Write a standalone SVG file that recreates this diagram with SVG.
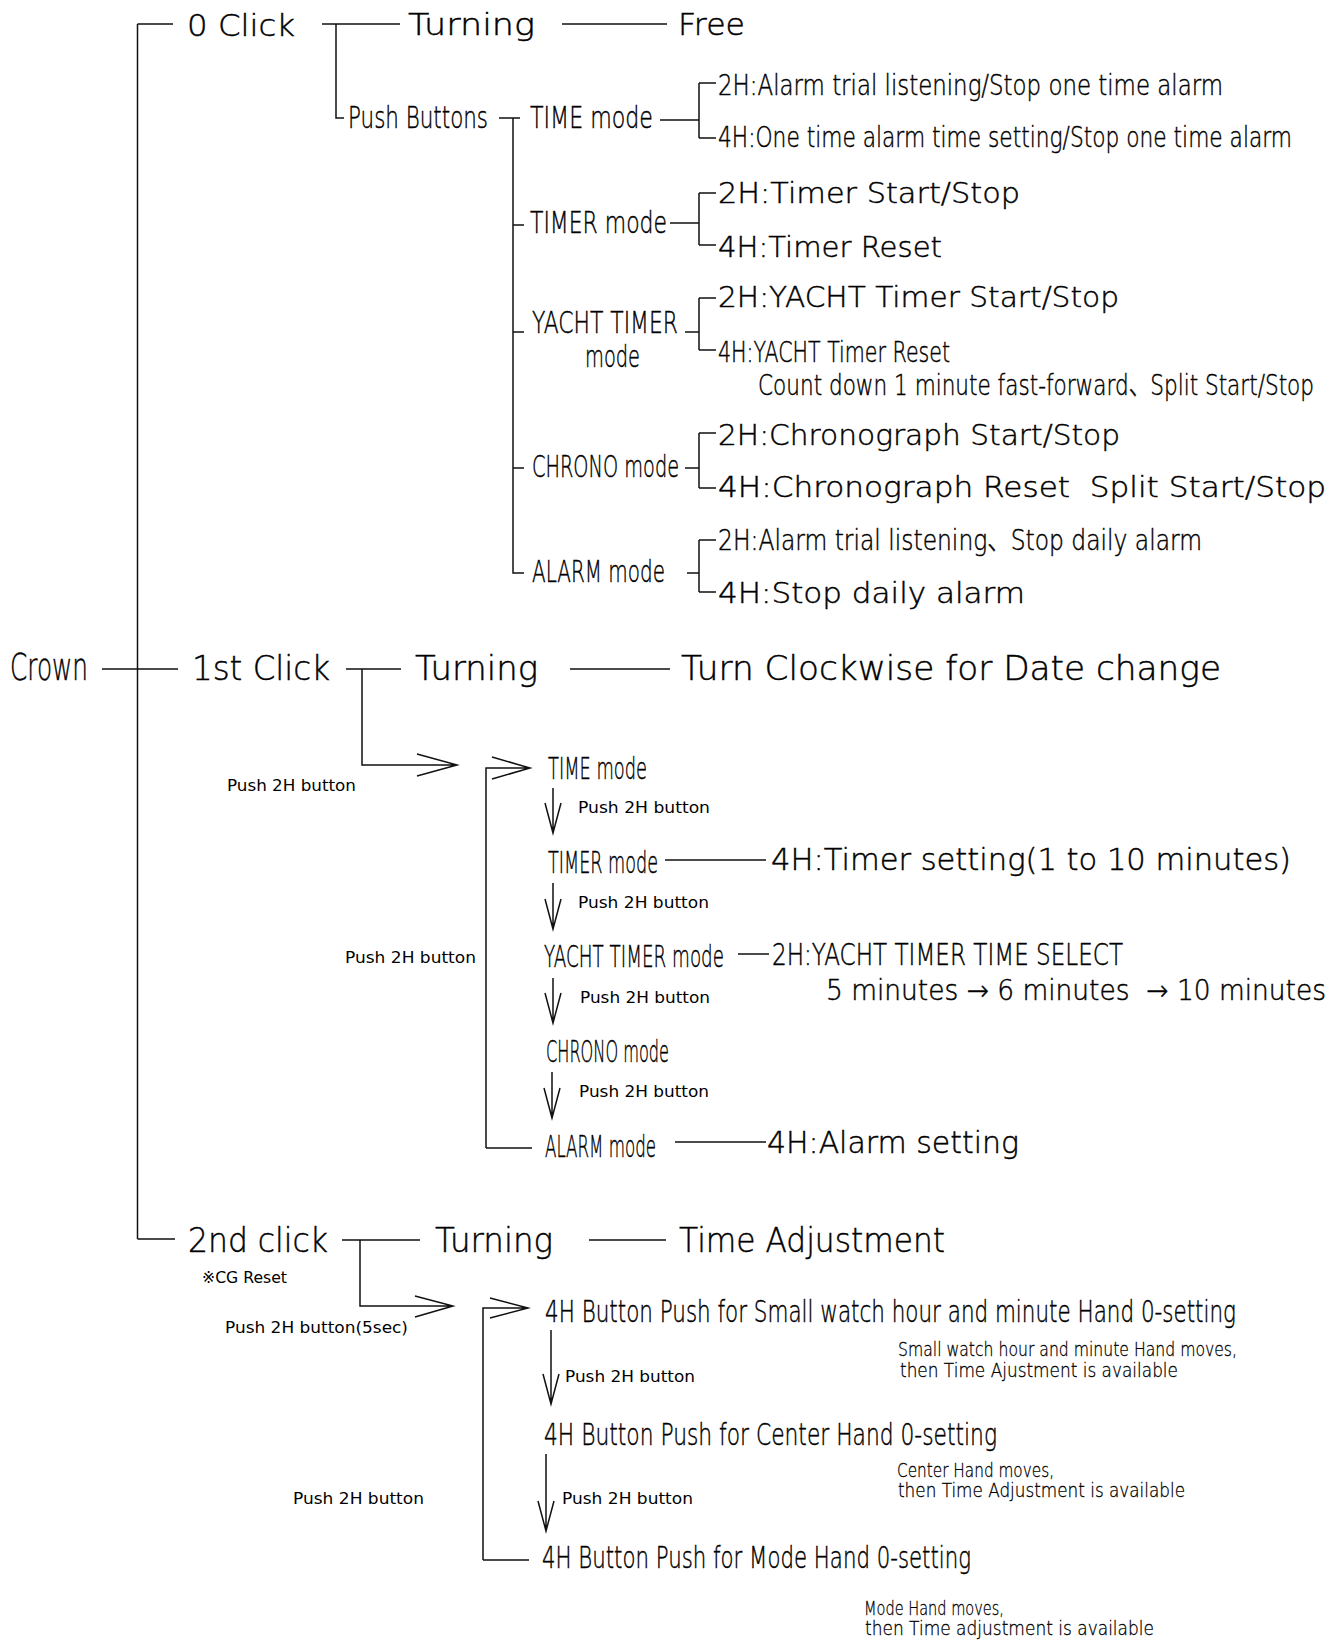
<svg xmlns="http://www.w3.org/2000/svg" width="1344" height="1641" viewBox="0 0 1344 1641">
<style>
text{font-family:"DejaVu Sans","Noto Sans CJK JP",sans-serif;font-weight:200;fill:#000;stroke:#000;stroke-width:0.45}
.s16{font-size:16px;font-weight:400;stroke:none}.s19{font-size:19px;stroke-width:0.3}.s28{font-size:28px}.s30{font-size:30px}.s31{font-size:31px}.s33{font-size:33px}.s37{font-size:37px}
.c path{fill:none;stroke:#111;stroke-width:1.5}
</style>
<rect width="1344" height="1641" fill="#fff"/>
<g class="c" id="connectors">
<path d="M137.5,24V1239M137.5,24H173M137.5,1239H175M102,669H178"/>
<path d="M322,24H400M336,24V118H344M562,24H667"/>
<path d="M499,118H520M513,118V573H524M513,225H524M513,332H524M513,468H524"/>
<path d="M660,120H699M699,83V138M699,83H716M699,138H716"/>
<path d="M670,223H699M699,193V245M699,193H716M699,245H716"/>
<path d="M685,332H699M699,298V350M699,298H716M699,350H716"/>
<path d="M685,468H699M699,433V488M699,433H716M699,488H716"/>
<path d="M687,573H699M699,540V592M699,540H716M699,592H716"/>
<path d="M346,669H401M362,669V765H457M417,754L457,765L417,776M570,669H670"/>
<path d="M486,1148V768H530M492,757L530,768L492,779M486,1148H532"/>
<path d="M553,788V833M545,803L553,833L561,803"/>
<path d="M553,883V929M545,899L553,929L561,899"/>
<path d="M553,978V1023M545,993L553,1023L561,993"/>
<path d="M552,1072V1118M544,1088L552,1118L560,1088"/>
<path d="M665,860H766M738,954H769M675,1142H766"/>
<path d="M342,1240H420M589,1240H666M360,1240V1306H453M415,1296L453,1306L415,1317"/>
<path d="M483,1560V1308H528M490,1298L528,1308L490,1318M483,1560H529"/>
<path d="M551,1330V1404M543,1374L551,1404L559,1374"/>
<path d="M546,1454V1531M538,1501L546,1531L554,1501"/>
</g>
<g id="crown"><text class="s37" transform="translate(10,680) scale(0.6,1)" textLength="130" lengthAdjust="spacingAndGlyphs">Crown</text></g>
<g id="click0"><text class="s31" transform="translate(187,36) scale(0.85,1)" textLength="127.06" lengthAdjust="spacingAndGlyphs">0 Click</text></g>
<g id="turning0"><text class="s31" transform="translate(408,35) scale(0.85,1)" textLength="149.41" lengthAdjust="spacingAndGlyphs">Turning</text></g>
<g id="free"><text class="s31" transform="translate(678,35) scale(0.85,1)" textLength="78.82" lengthAdjust="spacingAndGlyphs">Free</text></g>
<g id="pushbuttons"><text class="s31" transform="translate(348,128) scale(0.6,1)" textLength="233.33" lengthAdjust="spacingAndGlyphs">Push Buttons</text></g>
<g id="m-time"><text class="s31" transform="translate(530,128) scale(0.6,1)" textLength="205" lengthAdjust="spacingAndGlyphs">TIME mode</text></g>
<g id="time-2h"><text class="s28" transform="translate(718,95) scale(0.6,1)" textLength="841.67" lengthAdjust="spacingAndGlyphs">2H:Alarm trial listening/Stop one time alarm</text></g>
<g id="time-4h"><text class="s28" transform="translate(718,147) scale(0.6,1)" textLength="956.67" lengthAdjust="spacingAndGlyphs">4H:One time alarm time setting/Stop one time alarm</text></g>
<g id="m-timer"><text class="s31" transform="translate(530,233) scale(0.6,1)" textLength="228.33" lengthAdjust="spacingAndGlyphs">TIMER mode</text></g>
<g id="timer-2h"><text class="s28" transform="translate(718,203) scale(0.85,1)" textLength="355.29" lengthAdjust="spacingAndGlyphs">2H:Timer Start/Stop</text></g>
<g id="timer-4h"><text class="s28" transform="translate(718,257) scale(0.85,1)" textLength="263.53" lengthAdjust="spacingAndGlyphs">4H:Timer Reset</text></g>
<g id="m-yacht"><text class="s31" transform="translate(532,333) scale(0.6,1)" textLength="243.33" lengthAdjust="spacingAndGlyphs">YACHT TIMER</text><text class="s31" transform="translate(585,367) scale(0.6,1)" textLength="91.67" lengthAdjust="spacingAndGlyphs">mode</text></g>
<g id="yacht-2h"><text class="s28" transform="translate(718,307) scale(0.85,1)" textLength="471.76" lengthAdjust="spacingAndGlyphs">2H:YACHT Timer Start/Stop</text></g>
<g id="yacht-4h"><text class="s28" transform="translate(718,362) scale(0.6,1)" textLength="386.67" lengthAdjust="spacingAndGlyphs">4H:YACHT Timer Reset</text><text class="s28" transform="translate(758,395) scale(0.6,1)" textLength="926.67" lengthAdjust="spacingAndGlyphs">Count down 1 minute fast-forward、Split Start/Stop</text></g>
<g id="m-chrono"><text class="s31" transform="translate(532,477) scale(0.6,1)" textLength="245" lengthAdjust="spacingAndGlyphs">CHRONO mode</text></g>
<g id="chrono-2h"><text class="s28" transform="translate(718,445) scale(0.85,1)" textLength="472.94" lengthAdjust="spacingAndGlyphs">2H:Chronograph Start/Stop</text></g>
<g id="chrono-4h"><text class="s28" xml:space="preserve" transform="translate(718,497) scale(0.85,1)" textLength="715.29" lengthAdjust="spacingAndGlyphs">4H:Chronograph Reset  Split Start/Stop</text></g>
<g id="m-alarm"><text class="s31" transform="translate(532,582) scale(0.6,1)" textLength="221.67" lengthAdjust="spacingAndGlyphs">ALARM mode</text></g>
<g id="alarm-2h"><text class="s28" transform="translate(718,550) scale(0.6,1)" textLength="806.67" lengthAdjust="spacingAndGlyphs">2H:Alarm trial listening、Stop daily alarm</text></g>
<g id="alarm-4h"><text class="s28" transform="translate(718,603) scale(0.85,1)" textLength="361.18" lengthAdjust="spacingAndGlyphs">4H:Stop daily alarm</text></g>
<g id="click1"><text class="s33" transform="translate(192,680) scale(0.85,1)" textLength="162.35" lengthAdjust="spacingAndGlyphs">1st Click</text></g>
<g id="turning1"><text class="s33" transform="translate(415,680) scale(0.85,1)" textLength="144.71" lengthAdjust="spacingAndGlyphs">Turning</text></g>
<g id="date"><text class="s33" transform="translate(681,680) scale(0.85,1)" textLength="635.29" lengthAdjust="spacingAndGlyphs">Turn Clockwise for Date change</text></g>
<g id="lbl-push1"><text class="s16" transform="translate(227,791) scale(0.85,1)" textLength="151.76" lengthAdjust="spacingAndGlyphs">Push 2H button</text></g>
<g id="s-time"><text class="s31" transform="translate(548,779) scale(0.6,1)" textLength="165" lengthAdjust="spacingAndGlyphs">TIME mode</text></g>
<g id="lbl-push2"><text class="s16" transform="translate(578,813) scale(0.85,1)" textLength="155.29" lengthAdjust="spacingAndGlyphs">Push 2H button</text></g>
<g id="s-timer"><text class="s31" transform="translate(548,873) scale(0.6,1)" textLength="183.33" lengthAdjust="spacingAndGlyphs">TIMER mode</text></g>
<g id="s-timer-4h"><text class="s30" transform="translate(771,870) scale(0.85,1)" textLength="611.76" lengthAdjust="spacingAndGlyphs">4H:Timer setting(1 to 10 minutes)</text></g>
<g id="lbl-push3"><text class="s16" transform="translate(578,908) scale(0.85,1)" textLength="154.12" lengthAdjust="spacingAndGlyphs">Push 2H button</text></g>
<g id="lbl-push-loop1"><text class="s16" transform="translate(345,963) scale(0.85,1)" textLength="154.12" lengthAdjust="spacingAndGlyphs">Push 2H button</text></g>
<g id="s-yacht"><text class="s31" transform="translate(544,967) scale(0.6,1)" textLength="300" lengthAdjust="spacingAndGlyphs">YACHT TIMER mode</text></g>
<g id="s-yacht-2h"><text class="s30" transform="translate(772,965) scale(0.6,1)" textLength="585" lengthAdjust="spacingAndGlyphs">2H:YACHT TIMER TIME SELECT</text><text class="s28" xml:space="preserve" transform="translate(826,1000) scale(0.85,1)" textLength="588.24" lengthAdjust="spacingAndGlyphs">5 minutes → 6 minutes  → 10 minutes</text></g>
<g id="lbl-push4"><text class="s16" transform="translate(580,1003) scale(0.85,1)" textLength="152.94" lengthAdjust="spacingAndGlyphs">Push 2H button</text></g>
<g id="s-chrono"><text class="s31" transform="translate(546,1062) scale(0.6,1)" textLength="205" lengthAdjust="spacingAndGlyphs">CHRONO mode</text></g>
<g id="lbl-push5"><text class="s16" transform="translate(579,1097) scale(0.85,1)" textLength="152.94" lengthAdjust="spacingAndGlyphs">Push 2H button</text></g>
<g id="s-alarm"><text class="s31" transform="translate(545,1157) scale(0.6,1)" textLength="185" lengthAdjust="spacingAndGlyphs">ALARM mode</text></g>
<g id="s-alarm-4h"><text class="s30" transform="translate(767,1153) scale(0.85,1)" textLength="296.47" lengthAdjust="spacingAndGlyphs">4H:Alarm setting</text></g>
<g id="click2"><text class="s33" transform="translate(188,1252) scale(0.85,1)" textLength="164.71" lengthAdjust="spacingAndGlyphs">2nd click</text></g>
<g id="turning2"><text class="s33" transform="translate(435,1252) scale(0.85,1)" textLength="138.82" lengthAdjust="spacingAndGlyphs">Turning</text></g>
<g id="timeadj"><text class="s33" transform="translate(679,1252) scale(0.85,1)" textLength="312.94" lengthAdjust="spacingAndGlyphs">Time Adjustment</text></g>
<g id="cgreset"><text class="s16" transform="translate(202,1283) scale(0.85,1)" textLength="100" lengthAdjust="spacingAndGlyphs">※CG Reset</text></g>
<g id="lbl-push5sec"><text class="s16" transform="translate(225,1333) scale(0.85,1)" textLength="215.29" lengthAdjust="spacingAndGlyphs">Push 2H button(5sec)</text></g>
<g id="zero-small"><text class="s30" transform="translate(545,1322) scale(0.6,1)" textLength="1151.67" lengthAdjust="spacingAndGlyphs">4H Button Push for Small watch hour and minute Hand 0-setting</text><text class="s19" transform="translate(898,1356) scale(0.6,1)" textLength="565" lengthAdjust="spacingAndGlyphs">Small watch hour and minute Hand moves,</text><text class="s19" transform="translate(900,1377) scale(0.6,1)" textLength="463.33" lengthAdjust="spacingAndGlyphs">then Time Ajustment is available</text></g>
<g id="lbl-push6"><text class="s16" transform="translate(565,1382) scale(0.85,1)" textLength="152.94" lengthAdjust="spacingAndGlyphs">Push 2H button</text></g>
<g id="zero-center"><text class="s30" transform="translate(544,1445) scale(0.6,1)" textLength="755" lengthAdjust="spacingAndGlyphs">4H Button Push for Center Hand 0-setting</text><text class="s19" transform="translate(897,1477) scale(0.6,1)" textLength="261.67" lengthAdjust="spacingAndGlyphs">Center Hand moves,</text><text class="s19" transform="translate(898,1497) scale(0.6,1)" textLength="478.33" lengthAdjust="spacingAndGlyphs">then Time Adjustment is available</text></g>
<g id="lbl-push7"><text class="s16" transform="translate(562,1504) scale(0.85,1)" textLength="154.12" lengthAdjust="spacingAndGlyphs">Push 2H button</text></g>
<g id="lbl-push-loop2"><text class="s16" transform="translate(293,1504) scale(0.85,1)" textLength="154.12" lengthAdjust="spacingAndGlyphs">Push 2H button</text></g>
<g id="zero-mode"><text class="s30" transform="translate(542,1568) scale(0.6,1)" textLength="715" lengthAdjust="spacingAndGlyphs">4H Button Push for Mode Hand 0-setting</text><text class="s19" transform="translate(864,1615) scale(0.6,1)" textLength="233.33" lengthAdjust="spacingAndGlyphs">Mode Hand moves,</text><text class="s19" transform="translate(865,1635) scale(0.6,1)" textLength="481.67" lengthAdjust="spacingAndGlyphs">then Time adjustment is available</text></g>
</svg>
